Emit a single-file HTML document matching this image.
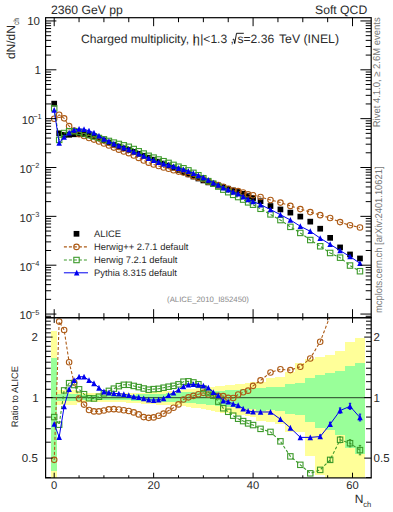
<!DOCTYPE html><html><head><meta charset="utf-8"><style>
html,body{margin:0;padding:0;background:#fff;width:393px;height:512px;overflow:hidden}
svg{display:block;font-family:"Liberation Sans",sans-serif;text-rendering:geometricPrecision}
</style></head><body>
<svg width="393" height="512" viewBox="0 0 393 512">
<defs>
<clipPath id="ct"><rect x="45.6" y="17.7" width="325.59999999999997" height="300.0"/></clipPath>
<clipPath id="cr"><rect x="45.6" y="317.7" width="325.59999999999997" height="160.2"/></clipPath>
</defs>
<g clip-path="url(#cr)">
<g fill="#ffff99" shape-rendering="crispEdges"><rect x="51.42" y="331.19" width="5.57" height="171.51"/><rect x="56.39" y="390.24" width="5.57" height="14.45"/><rect x="61.36" y="390.32" width="5.57" height="14.37"/><rect x="66.33" y="390.4" width="5.57" height="14.29"/><rect x="71.3" y="390.48" width="5.57" height="14.21"/><rect x="76.28" y="391.9" width="5.57" height="11.38"/><rect x="81.25" y="393.34" width="5.57" height="8.55"/><rect x="86.22" y="393.31" width="5.57" height="8.61"/><rect x="91.19" y="393.29" width="5.57" height="8.67"/><rect x="96.16" y="393.26" width="5.57" height="8.73"/><rect x="101.14" y="393.23" width="5.57" height="8.79"/><rect x="106.11" y="393.2" width="5.57" height="8.84"/><rect x="111.08" y="393.17" width="5.57" height="8.9"/><rect x="116.05" y="393.09" width="5.57" height="9.17"/><rect x="121.02" y="393.01" width="5.57" height="9.44"/><rect x="126" y="392.93" width="5.57" height="9.7"/><rect x="130.97" y="392.84" width="5.57" height="9.97"/><rect x="135.94" y="392.72" width="5.57" height="10.49"/><rect x="140.91" y="392.6" width="5.57" height="11.01"/><rect x="145.88" y="392.47" width="5.57" height="11.53"/><rect x="150.86" y="392.35" width="5.57" height="12.06"/><rect x="155.83" y="391.89" width="5.57" height="12.7"/><rect x="160.8" y="391.43" width="5.57" height="13.35"/><rect x="165.77" y="390.98" width="5.57" height="13.99"/><rect x="170.74" y="390.53" width="5.57" height="14.64"/><rect x="175.72" y="390.08" width="5.57" height="15.28"/><rect x="180.69" y="389.57" width="5.57" height="16.55"/><rect x="185.66" y="389.07" width="5.57" height="17.82"/><rect x="190.63" y="388.58" width="5.57" height="19.1"/><rect x="195.6" y="388.08" width="5.57" height="20.38"/><rect x="200.58" y="387.59" width="5.57" height="21.67"/><rect x="205.55" y="387.1" width="5.57" height="22.96"/><rect x="210.52" y="386.62" width="5.57" height="24.25"/><rect x="215.49" y="386.13" width="5.57" height="25.55"/><rect x="220.46" y="385.65" width="5.57" height="26.86"/><rect x="225.44" y="385.17" width="5.57" height="28.17"/><rect x="230.41" y="384.61" width="5.57" height="29.36"/><rect x="235.38" y="384.06" width="5.57" height="30.55"/><rect x="240.35" y="383.51" width="5.57" height="31.74"/><rect x="245.32" y="382.96" width="5.57" height="32.93"/><rect x="250.3" y="382.42" width="5.57" height="34.12"/><rect x="255.57" y="381.68" width="9.94" height="39.3"/><rect x="265.51" y="377.91" width="9.94" height="44.34"/><rect x="275.45" y="376.74" width="9.94" height="46.91"/><rect x="285.4" y="371.66" width="9.94" height="60.38"/><rect x="295.34" y="362.56" width="9.94" height="69.48"/><rect x="305.29" y="358.5" width="9.94" height="97.36"/><rect x="315.23" y="357.23" width="9.94" height="117.35"/><rect x="325.17" y="355.11" width="9.94" height="147.59"/><rect x="335.12" y="351.02" width="9.94" height="151.68"/><rect x="345.06" y="342.12" width="9.94" height="160.58"/><rect x="355.01" y="338.1" width="9.94" height="164.6"/></g>
<g fill="#99ff99" shape-rendering="crispEdges"><rect x="51.42" y="358.39" width="5.57" height="112.88"/><rect x="56.39" y="393.59" width="5.57" height="7.3"/><rect x="61.36" y="393.65" width="5.57" height="7.24"/><rect x="66.33" y="393.7" width="5.57" height="7.19"/><rect x="71.3" y="393.76" width="5.57" height="7.13"/><rect x="76.28" y="394.34" width="5.57" height="5.87"/><rect x="81.25" y="394.94" width="5.57" height="4.61"/><rect x="86.22" y="394.95" width="5.57" height="4.61"/><rect x="91.19" y="394.96" width="5.57" height="4.61"/><rect x="96.16" y="394.98" width="5.57" height="4.61"/><rect x="101.14" y="394.99" width="5.57" height="4.61"/><rect x="106.11" y="395.01" width="5.57" height="4.61"/><rect x="111.08" y="395.02" width="5.57" height="4.61"/><rect x="116.05" y="394.91" width="5.57" height="4.99"/><rect x="121.02" y="394.81" width="5.57" height="5.36"/><rect x="126" y="394.7" width="5.57" height="5.74"/><rect x="130.97" y="394.6" width="5.57" height="6.11"/><rect x="135.94" y="394.49" width="5.57" height="6.38"/><rect x="140.91" y="394.39" width="5.57" height="6.64"/><rect x="145.88" y="394.28" width="5.57" height="6.9"/><rect x="150.86" y="394.18" width="5.57" height="7.17"/><rect x="155.83" y="393.84" width="5.57" height="7.65"/><rect x="160.8" y="393.51" width="5.57" height="8.13"/><rect x="165.77" y="393.17" width="5.57" height="8.61"/><rect x="170.74" y="392.84" width="5.57" height="9.09"/><rect x="175.72" y="392.51" width="5.57" height="9.56"/><rect x="180.69" y="392.29" width="5.57" height="10.25"/><rect x="185.66" y="392.07" width="5.57" height="10.93"/><rect x="190.63" y="391.85" width="5.57" height="11.62"/><rect x="195.6" y="391.63" width="5.57" height="12.31"/><rect x="200.58" y="391.41" width="5.57" height="13"/><rect x="205.55" y="391.19" width="5.57" height="13.69"/><rect x="210.52" y="390.97" width="5.57" height="14.38"/><rect x="215.49" y="390.75" width="5.57" height="15.08"/><rect x="220.46" y="390.53" width="5.57" height="15.78"/><rect x="225.44" y="390.32" width="5.57" height="16.48"/><rect x="230.41" y="389.95" width="5.57" height="17.33"/><rect x="235.38" y="389.58" width="5.57" height="18.19"/><rect x="240.35" y="389.22" width="5.57" height="19.05"/><rect x="245.32" y="388.85" width="5.57" height="19.91"/><rect x="250.3" y="388.49" width="5.57" height="20.77"/><rect x="255.57" y="387.86" width="9.94" height="22.7"/><rect x="265.51" y="387.32" width="9.94" height="22.44"/><rect x="275.45" y="386.93" width="9.94" height="23.83"/><rect x="285.4" y="384.19" width="9.94" height="29.67"/><rect x="295.34" y="383.15" width="9.94" height="31.35"/><rect x="305.29" y="378.12" width="9.94" height="44.01"/><rect x="315.23" y="374.5" width="9.94" height="53.25"/><rect x="325.17" y="373.36" width="9.94" height="56.88"/><rect x="335.12" y="371.4" width="9.94" height="64.07"/><rect x="345.06" y="365.59" width="9.94" height="82.63"/><rect x="355.01" y="363.2" width="9.94" height="91.15"/></g>
<line x1="45.6" y1="397.6" x2="371.2" y2="397.6" stroke="#000" stroke-opacity="0.6" stroke-width="1.2"/>
<polyline points="54.2,459.87 59.17,321.54 64.14,329.97 69.12,362.21 74.09,382.42 79.06,398.48 84.03,404.59 89,410.06 93.98,411.38 98.95,411.38 103.92,410.46 108.89,409.36 113.86,409.16 118.84,409.56 123.81,410.26 128.78,410.97 133.75,412.41 138.72,414.39 143.7,417.08 148.67,417.85 153.64,417.41 158.61,415.78 163.58,413.66 168.56,410.56 173.53,407.77 178.5,404.41 183.47,399.54 188.44,397.34 193.42,395.87 198.39,394.18 203.36,392.84 208.33,394.51 213.3,395.87 218.28,395.87 223.25,396.13 228.22,397.86 233.19,398.04 238.16,394.51 243.14,392.18 248.11,390.64 253.08,385.86 260.54,380.38 270.48,372.51 280.43,369.29 290.37,370.12 300.31,366.68 310.26,358.45 320.2,341.71 330.15,315.89 340.09,293.38 350.03,277.68 359.98,270.27" fill="none" stroke="#ad5b16" stroke-width="1.1" stroke-dasharray="3,2"/>
<g fill="none" stroke="#ad5b16" stroke-width="1.1"><circle cx="54.2" cy="459.87" r="2.75"/><circle cx="59.17" cy="321.54" r="2.75"/><circle cx="64.14" cy="329.97" r="2.75"/><circle cx="69.12" cy="362.21" r="2.75"/><circle cx="74.09" cy="382.42" r="2.75"/><circle cx="79.06" cy="398.48" r="2.75"/><circle cx="84.03" cy="404.59" r="2.75"/><circle cx="89" cy="410.06" r="2.75"/><circle cx="93.98" cy="411.38" r="2.75"/><circle cx="98.95" cy="411.38" r="2.75"/><circle cx="103.92" cy="410.46" r="2.75"/><circle cx="108.89" cy="409.36" r="2.75"/><circle cx="113.86" cy="409.16" r="2.75"/><circle cx="118.84" cy="409.56" r="2.75"/><circle cx="123.81" cy="410.26" r="2.75"/><circle cx="128.78" cy="410.97" r="2.75"/><circle cx="133.75" cy="412.41" r="2.75"/><circle cx="138.72" cy="414.39" r="2.75"/><circle cx="143.7" cy="417.08" r="2.75"/><circle cx="148.67" cy="417.85" r="2.75"/><circle cx="153.64" cy="417.41" r="2.75"/><circle cx="158.61" cy="415.78" r="2.75"/><circle cx="163.58" cy="413.66" r="2.75"/><circle cx="168.56" cy="410.56" r="2.75"/><circle cx="173.53" cy="407.77" r="2.75"/><circle cx="178.5" cy="404.41" r="2.75"/><circle cx="183.47" cy="399.54" r="2.75"/><circle cx="188.44" cy="397.34" r="2.75"/><circle cx="193.42" cy="395.87" r="2.75"/><circle cx="198.39" cy="394.18" r="2.75"/><circle cx="203.36" cy="392.84" r="2.75"/><circle cx="208.33" cy="394.51" r="2.75"/><circle cx="213.3" cy="395.87" r="2.75"/><circle cx="218.28" cy="395.87" r="2.75"/><circle cx="223.25" cy="396.13" r="2.75"/><circle cx="228.22" cy="397.86" r="2.75"/><circle cx="233.19" cy="398.04" r="2.75"/><circle cx="238.16" cy="394.51" r="2.75"/><circle cx="243.14" cy="392.18" r="2.75"/><circle cx="248.11" cy="390.64" r="2.75"/><circle cx="253.08" cy="385.86" r="2.75"/><circle cx="260.54" cy="380.38" r="2.75"/><circle cx="270.48" cy="372.51" r="2.75"/><circle cx="280.43" cy="369.29" r="2.75"/><circle cx="290.37" cy="370.12" r="2.75"/><circle cx="300.31" cy="366.68" r="2.75"/><circle cx="310.26" cy="358.45" r="2.75"/><circle cx="320.2" cy="341.71" r="2.75"/></g>
<polyline points="54.2,417.08 59.17,424.71 64.14,390.4 69.12,383.15 74.09,385.02 79.06,389.28 84.03,394.18 89,398.21 93.98,398.48 98.95,396.73 103.92,393.34 108.89,390.88 113.86,388.65 118.84,386.16 123.81,384.79 128.78,384.79 133.75,385.93 138.72,387.09 143.7,388.49 148.67,389.68 153.64,389.12 158.61,388.81 163.58,387.71 168.56,386.7 173.53,385.86 178.5,384.34 183.47,381.68 188.44,381.32 193.42,382.42 198.39,384.27 203.36,388.49 208.33,392.51 213.3,395.7 218.28,401.62 223.25,408.26 228.22,411.79 233.19,415.67 238.16,418.73 243.14,421.1 248.11,423.41 253.08,425.07 260.54,428.86 270.48,431.91 280.43,441.32 290.37,456.38 300.31,464.82 310.26,473.33 320.2,469.86 330.15,459.87 340.09,439.75 350.03,443.22 359.98,450.11" fill="none" stroke="#3d9a2b" stroke-width="1.1" stroke-dasharray="3,2"/>
<g fill="none" stroke="#3d9a2b" stroke-width="1.1"><rect x="51.5" y="414.38" width="5.4" height="5.4"/><rect x="56.47" y="422.01" width="5.4" height="5.4"/><rect x="61.44" y="387.7" width="5.4" height="5.4"/><rect x="66.42" y="380.45" width="5.4" height="5.4"/><rect x="71.39" y="382.32" width="5.4" height="5.4"/><rect x="76.36" y="386.58" width="5.4" height="5.4"/><rect x="81.33" y="391.48" width="5.4" height="5.4"/><rect x="86.3" y="395.51" width="5.4" height="5.4"/><rect x="91.28" y="395.78" width="5.4" height="5.4"/><rect x="96.25" y="394.03" width="5.4" height="5.4"/><rect x="101.22" y="390.64" width="5.4" height="5.4"/><rect x="106.19" y="388.18" width="5.4" height="5.4"/><rect x="111.16" y="385.95" width="5.4" height="5.4"/><rect x="116.14" y="383.46" width="5.4" height="5.4"/><rect x="121.11" y="382.09" width="5.4" height="5.4"/><rect x="126.08" y="382.09" width="5.4" height="5.4"/><rect x="131.05" y="383.23" width="5.4" height="5.4"/><rect x="136.02" y="384.39" width="5.4" height="5.4"/><rect x="141" y="385.79" width="5.4" height="5.4"/><rect x="145.97" y="386.98" width="5.4" height="5.4"/><rect x="150.94" y="386.42" width="5.4" height="5.4"/><rect x="155.91" y="386.11" width="5.4" height="5.4"/><rect x="160.88" y="385.01" width="5.4" height="5.4"/><rect x="165.86" y="384" width="5.4" height="5.4"/><rect x="170.83" y="383.16" width="5.4" height="5.4"/><rect x="175.8" y="381.64" width="5.4" height="5.4"/><rect x="180.77" y="378.98" width="5.4" height="5.4"/><rect x="185.74" y="378.62" width="5.4" height="5.4"/><rect x="190.72" y="379.72" width="5.4" height="5.4"/><rect x="195.69" y="381.57" width="5.4" height="5.4"/><rect x="200.66" y="385.79" width="5.4" height="5.4"/><rect x="205.63" y="389.81" width="5.4" height="5.4"/><rect x="210.6" y="393" width="5.4" height="5.4"/><rect x="215.58" y="398.92" width="5.4" height="5.4"/><rect x="220.55" y="405.56" width="5.4" height="5.4"/><rect x="225.52" y="409.09" width="5.4" height="5.4"/><rect x="230.49" y="412.97" width="5.4" height="5.4"/><rect x="235.46" y="416.03" width="5.4" height="5.4"/><rect x="240.44" y="418.4" width="5.4" height="5.4"/><rect x="245.41" y="420.71" width="5.4" height="5.4"/><rect x="250.38" y="422.37" width="5.4" height="5.4"/><rect x="257.84" y="426.16" width="5.4" height="5.4"/><rect x="267.78" y="429.21" width="5.4" height="5.4"/><rect x="277.73" y="438.62" width="5.4" height="5.4"/><rect x="287.67" y="453.68" width="5.4" height="5.4"/><rect x="297.61" y="462.12" width="5.4" height="5.4"/><rect x="307.56" y="470.63" width="5.4" height="5.4"/><rect x="317.5" y="467.16" width="5.4" height="5.4"/><rect x="327.45" y="457.17" width="5.4" height="5.4"/><rect x="337.39" y="437.05" width="5.4" height="5.4"/><rect x="347.33" y="440.52" width="5.4" height="5.4"/><rect x="357.28" y="447.41" width="5.4" height="5.4"/></g>
<polyline points="54.2,423.88 59.17,437.11 64.14,406.51 69.12,389.28 74.09,380.24 79.06,376.74 84.03,376.74 89,380.24 93.98,383.37 98.95,387.86 103.92,391.61 108.89,392.6 113.86,393.34 118.84,393.67 123.81,394.18 128.78,395.27 133.75,396.73 138.72,397.16 143.7,398.48 148.67,399.72 153.64,400.08 158.61,399.72 163.58,398.48 168.56,395.27 173.53,392.68 178.5,389.92 183.47,386.39 188.44,384.64 193.42,384.27 198.39,385.02 203.36,385.78 208.33,387.71 213.3,392.18 218.28,395.44 223.25,400.71 228.22,401.71 233.19,403.93 238.16,405.35 243.14,408.76 248.11,410.97 253.08,411.79 260.54,411.99 270.48,411.99 280.43,419.29 290.37,427.87 300.31,437.38 310.26,437.38 320.2,436.56 330.15,424.24 340.09,410.56 350.03,406.31 359.98,417.52" fill="none" stroke="#0000f0" stroke-width="1"/>
<path d="M320.2 435.06V438.06M319 435.06H321.4M319 438.06H321.4M330.15 422.24V426.24M328.95 422.24H331.35M328.95 426.24H331.35M340.09 407.96V413.16M338.89 407.96H341.29M338.89 413.16H341.29M350.03 403.31V409.31M348.83 403.31H351.23M348.83 409.31H351.23M359.98 414.12V420.92M358.78 414.12H361.18M358.78 420.92H361.18" stroke="#0000f0" stroke-width="1" fill="none"/>
<path d="M330.15 457.67V462.07M328.95 457.67H331.35M328.95 462.07H331.35M340.09 436.75V442.75M338.89 436.75H341.29M338.89 442.75H341.29M350.03 439.62V446.82M348.83 439.62H351.23M348.83 446.82H351.23M359.98 445.41V454.81M358.78 445.41H361.18M358.78 454.81H361.18" stroke="#3d9a2b" stroke-width="1" fill="none"/>
<g fill="#0000f0"><path d="M54.2 420.88L56.95 426.68L51.45 426.68Z"/><path d="M59.17 434.11L61.92 439.91L56.42 439.91Z"/><path d="M64.14 403.51L66.89 409.31L61.39 409.31Z"/><path d="M69.12 386.28L71.87 392.08L66.37 392.08Z"/><path d="M74.09 377.24L76.84 383.04L71.34 383.04Z"/><path d="M79.06 373.74L81.81 379.54L76.31 379.54Z"/><path d="M84.03 373.74L86.78 379.54L81.28 379.54Z"/><path d="M89 377.24L91.75 383.04L86.25 383.04Z"/><path d="M93.98 380.37L96.73 386.17L91.23 386.17Z"/><path d="M98.95 384.86L101.7 390.66L96.2 390.66Z"/><path d="M103.92 388.61L106.67 394.41L101.17 394.41Z"/><path d="M108.89 389.6L111.64 395.4L106.14 395.4Z"/><path d="M113.86 390.34L116.61 396.14L111.11 396.14Z"/><path d="M118.84 390.67L121.59 396.47L116.09 396.47Z"/><path d="M123.81 391.18L126.56 396.98L121.06 396.98Z"/><path d="M128.78 392.27L131.53 398.07L126.03 398.07Z"/><path d="M133.75 393.73L136.5 399.53L131 399.53Z"/><path d="M138.72 394.16L141.47 399.96L135.97 399.96Z"/><path d="M143.7 395.48L146.45 401.28L140.95 401.28Z"/><path d="M148.67 396.72L151.42 402.52L145.92 402.52Z"/><path d="M153.64 397.08L156.39 402.88L150.89 402.88Z"/><path d="M158.61 396.72L161.36 402.52L155.86 402.52Z"/><path d="M163.58 395.48L166.33 401.28L160.83 401.28Z"/><path d="M168.56 392.27L171.31 398.07L165.81 398.07Z"/><path d="M173.53 389.68L176.28 395.48L170.78 395.48Z"/><path d="M178.5 386.92L181.25 392.72L175.75 392.72Z"/><path d="M183.47 383.39L186.22 389.19L180.72 389.19Z"/><path d="M188.44 381.64L191.19 387.44L185.69 387.44Z"/><path d="M193.42 381.27L196.17 387.07L190.67 387.07Z"/><path d="M198.39 382.02L201.14 387.82L195.64 387.82Z"/><path d="M203.36 382.78L206.11 388.58L200.61 388.58Z"/><path d="M208.33 384.71L211.08 390.51L205.58 390.51Z"/><path d="M213.3 389.18L216.05 394.98L210.55 394.98Z"/><path d="M218.28 392.44L221.03 398.24L215.53 398.24Z"/><path d="M223.25 397.71L226 403.51L220.5 403.51Z"/><path d="M228.22 398.71L230.97 404.51L225.47 404.51Z"/><path d="M233.19 400.93L235.94 406.73L230.44 406.73Z"/><path d="M238.16 402.35L240.91 408.15L235.41 408.15Z"/><path d="M243.14 405.76L245.89 411.56L240.39 411.56Z"/><path d="M248.11 407.97L250.86 413.77L245.36 413.77Z"/><path d="M253.08 408.79L255.83 414.59L250.33 414.59Z"/><path d="M260.54 408.99L263.29 414.79L257.79 414.79Z"/><path d="M270.48 408.99L273.23 414.79L267.73 414.79Z"/><path d="M280.43 416.29L283.18 422.09L277.68 422.09Z"/><path d="M290.37 424.87L293.12 430.67L287.62 430.67Z"/><path d="M300.31 434.38L303.06 440.18L297.56 440.18Z"/><path d="M310.26 434.38L313.01 440.18L307.51 440.18Z"/><path d="M320.2 433.56L322.95 439.36L317.45 439.36Z"/><path d="M330.15 421.24L332.9 427.04L327.4 427.04Z"/><path d="M340.09 407.56L342.84 413.36L337.34 413.36Z"/><path d="M350.03 403.31L352.78 409.11L347.28 409.11Z"/><path d="M359.98 414.52L362.73 420.32L357.23 420.32Z"/></g>
</g>
<g clip-path="url(#ct)">
<g fill="#000"><rect x="51.35" y="100.8" width="5.7" height="5.7"/><rect x="56.32" y="130.46" width="5.7" height="5.7"/><rect x="61.29" y="131.92" width="5.7" height="5.7"/><rect x="66.27" y="131.92" width="5.7" height="5.7"/><rect x="71.24" y="131.43" width="5.7" height="5.7"/><rect x="76.21" y="131.19" width="5.7" height="5.7"/><rect x="81.18" y="131.43" width="5.7" height="5.7"/><rect x="86.15" y="132.16" width="5.7" height="5.7"/><rect x="91.13" y="133.39" width="5.7" height="5.7"/><rect x="96.1" y="135.34" width="5.7" height="5.7"/><rect x="101.07" y="137.54" width="5.7" height="5.7"/><rect x="106.04" y="139.74" width="5.7" height="5.7"/><rect x="111.01" y="141.93" width="5.7" height="5.7"/><rect x="115.99" y="143.89" width="5.7" height="5.7"/><rect x="120.96" y="145.6" width="5.7" height="5.7"/><rect x="125.93" y="147.06" width="5.7" height="5.7"/><rect x="130.9" y="149.02" width="5.7" height="5.7"/><rect x="135.87" y="150.97" width="5.7" height="5.7"/><rect x="140.85" y="152.93" width="5.7" height="5.7"/><rect x="145.82" y="154.88" width="5.7" height="5.7"/><rect x="150.79" y="156.83" width="5.7" height="5.7"/><rect x="155.76" y="158.79" width="5.7" height="5.7"/><rect x="160.73" y="160.74" width="5.7" height="5.7"/><rect x="165.71" y="162.7" width="5.7" height="5.7"/><rect x="170.68" y="164.89" width="5.7" height="5.7"/><rect x="175.65" y="167.09" width="5.7" height="5.7"/><rect x="180.62" y="169.29" width="5.7" height="5.7"/><rect x="185.59" y="171.49" width="5.7" height="5.7"/><rect x="190.57" y="173.69" width="5.7" height="5.7"/><rect x="195.54" y="175.64" width="5.7" height="5.7"/><rect x="200.51" y="177.6" width="5.7" height="5.7"/><rect x="205.48" y="179.55" width="5.7" height="5.7"/><rect x="210.45" y="181.26" width="5.7" height="5.7"/><rect x="215.43" y="182.72" width="5.7" height="5.7"/><rect x="220.4" y="184.19" width="5.7" height="5.7"/><rect x="225.37" y="185.9" width="5.7" height="5.7"/><rect x="230.34" y="187.61" width="5.7" height="5.7"/><rect x="235.31" y="189.08" width="5.7" height="5.7"/><rect x="240.29" y="191.03" width="5.7" height="5.7"/><rect x="245.26" y="193.23" width="5.7" height="5.7"/><rect x="250.23" y="195.18" width="5.7" height="5.7"/><rect x="257.69" y="198.36" width="5.7" height="5.7"/><rect x="267.63" y="203.19" width="5.7" height="5.7"/><rect x="277.58" y="206.61" width="5.7" height="5.7"/><rect x="287.52" y="209.74" width="5.7" height="5.7"/><rect x="297.46" y="213.74" width="5.7" height="5.7"/><rect x="307.41" y="218.78" width="5.7" height="5.7"/><rect x="317.35" y="225.86" width="5.7" height="5.7"/><rect x="327.3" y="234.99" width="5.7" height="5.7"/><rect x="337.24" y="244.57" width="5.7" height="5.7"/><rect x="347.18" y="251.6" width="5.7" height="5.7"/><rect x="357.13" y="255.61" width="5.7" height="5.7"/></g>
<polyline points="54.2,118.79 59.17,114.82 64.14,118.33 69.12,126.17 74.09,130.59 79.06,134.25 84.03,135.98 89,138.04 93.98,139.58 98.95,141.54 103.92,143.51 108.89,145.44 113.86,147.59 118.84,149.64 123.81,151.53 128.78,153.16 133.75,155.47 138.72,157.9 143.7,160.51 148.67,162.65 153.64,164.5 158.61,166.06 163.58,167.49 168.56,168.7 173.53,170.22 178.5,171.6 183.47,172.61 188.44,174.28 193.42,176.12 198.39,177.66 203.36,179.29 208.33,181.65 213.3,183.69 218.28,185.15 223.25,186.68 228.22,188.81 233.19,190.57 238.16,191.17 243.14,192.56 248.11,194.39 253.08,195.18 260.54,197.02 270.48,199.94 280.43,202.58 290.37,205.91 300.31,209.08 310.26,212.11 320.2,215.13 330.15,217.98 340.09,222.09 350.03,225.31 359.98,227.51" fill="none" stroke="#ad5b16" stroke-width="1.1" stroke-dasharray="3,2"/>
<g fill="none" stroke="#ad5b16" stroke-width="1.1"><circle cx="54.2" cy="118.79" r="2.75"/><circle cx="59.17" cy="114.82" r="2.75"/><circle cx="64.14" cy="118.33" r="2.75"/><circle cx="69.12" cy="126.17" r="2.75"/><circle cx="74.09" cy="130.59" r="2.75"/><circle cx="79.06" cy="134.25" r="2.75"/><circle cx="84.03" cy="135.98" r="2.75"/><circle cx="89" cy="138.04" r="2.75"/><circle cx="93.98" cy="139.58" r="2.75"/><circle cx="98.95" cy="141.54" r="2.75"/><circle cx="103.92" cy="143.51" r="2.75"/><circle cx="108.89" cy="145.44" r="2.75"/><circle cx="113.86" cy="147.59" r="2.75"/><circle cx="118.84" cy="149.64" r="2.75"/><circle cx="123.81" cy="151.53" r="2.75"/><circle cx="128.78" cy="153.16" r="2.75"/><circle cx="133.75" cy="155.47" r="2.75"/><circle cx="138.72" cy="157.9" r="2.75"/><circle cx="143.7" cy="160.51" r="2.75"/><circle cx="148.67" cy="162.65" r="2.75"/><circle cx="153.64" cy="164.5" r="2.75"/><circle cx="158.61" cy="166.06" r="2.75"/><circle cx="163.58" cy="167.49" r="2.75"/><circle cx="168.56" cy="168.7" r="2.75"/><circle cx="173.53" cy="170.22" r="2.75"/><circle cx="178.5" cy="171.6" r="2.75"/><circle cx="183.47" cy="172.61" r="2.75"/><circle cx="188.44" cy="174.28" r="2.75"/><circle cx="193.42" cy="176.12" r="2.75"/><circle cx="198.39" cy="177.66" r="2.75"/><circle cx="203.36" cy="179.29" r="2.75"/><circle cx="208.33" cy="181.65" r="2.75"/><circle cx="213.3" cy="183.69" r="2.75"/><circle cx="218.28" cy="185.15" r="2.75"/><circle cx="223.25" cy="186.68" r="2.75"/><circle cx="228.22" cy="188.81" r="2.75"/><circle cx="233.19" cy="190.57" r="2.75"/><circle cx="238.16" cy="191.17" r="2.75"/><circle cx="243.14" cy="192.56" r="2.75"/><circle cx="248.11" cy="194.39" r="2.75"/><circle cx="253.08" cy="195.18" r="2.75"/><circle cx="260.54" cy="197.02" r="2.75"/><circle cx="270.48" cy="199.94" r="2.75"/><circle cx="280.43" cy="202.58" r="2.75"/><circle cx="290.37" cy="205.91" r="2.75"/><circle cx="300.31" cy="209.08" r="2.75"/><circle cx="310.26" cy="212.11" r="2.75"/><circle cx="320.2" cy="215.13" r="2.75"/><circle cx="330.15" cy="217.98" r="2.75"/><circle cx="340.09" cy="222.09" r="2.75"/><circle cx="350.03" cy="225.31" r="2.75"/><circle cx="359.98" cy="227.51" r="2.75"/></g>
<polyline points="54.2,108.39 59.17,139.89 64.14,133.02 69.12,131.26 74.09,131.22 79.06,132.02 84.03,133.45 89,135.16 93.98,136.45 98.95,137.98 103.92,139.35 108.89,140.95 113.86,142.61 118.84,143.96 123.81,145.34 128.78,146.8 133.75,149.03 138.72,151.27 143.7,153.56 148.67,155.8 153.64,157.62 158.61,159.5 163.58,161.19 168.56,162.9 173.53,164.89 178.5,166.72 183.47,168.27 188.44,170.38 193.42,172.85 198.39,175.25 203.36,178.23 208.33,181.16 213.3,183.65 218.28,186.55 223.25,189.63 228.22,192.2 233.19,194.85 238.16,197.06 243.14,199.59 248.11,202.35 253.08,204.71 260.54,208.8 270.48,214.38 280.43,220.09 290.37,226.87 300.31,232.93 310.26,240.03 320.2,246.27 330.15,252.98 340.09,257.66 350.03,265.54 359.98,271.22" fill="none" stroke="#3d9a2b" stroke-width="1.1" stroke-dasharray="3,2"/>
<g fill="none" stroke="#3d9a2b" stroke-width="1.1"><rect x="51.5" y="105.69" width="5.4" height="5.4"/><rect x="56.47" y="137.19" width="5.4" height="5.4"/><rect x="61.44" y="130.32" width="5.4" height="5.4"/><rect x="66.42" y="128.56" width="5.4" height="5.4"/><rect x="71.39" y="128.52" width="5.4" height="5.4"/><rect x="76.36" y="129.32" width="5.4" height="5.4"/><rect x="81.33" y="130.75" width="5.4" height="5.4"/><rect x="86.3" y="132.46" width="5.4" height="5.4"/><rect x="91.28" y="133.75" width="5.4" height="5.4"/><rect x="96.25" y="135.28" width="5.4" height="5.4"/><rect x="101.22" y="136.65" width="5.4" height="5.4"/><rect x="106.19" y="138.25" width="5.4" height="5.4"/><rect x="111.16" y="139.91" width="5.4" height="5.4"/><rect x="116.14" y="141.26" width="5.4" height="5.4"/><rect x="121.11" y="142.64" width="5.4" height="5.4"/><rect x="126.08" y="144.1" width="5.4" height="5.4"/><rect x="131.05" y="146.33" width="5.4" height="5.4"/><rect x="136.02" y="148.57" width="5.4" height="5.4"/><rect x="141" y="150.86" width="5.4" height="5.4"/><rect x="145.97" y="153.1" width="5.4" height="5.4"/><rect x="150.94" y="154.92" width="5.4" height="5.4"/><rect x="155.91" y="156.8" width="5.4" height="5.4"/><rect x="160.88" y="158.49" width="5.4" height="5.4"/><rect x="165.86" y="160.2" width="5.4" height="5.4"/><rect x="170.83" y="162.19" width="5.4" height="5.4"/><rect x="175.8" y="164.02" width="5.4" height="5.4"/><rect x="180.77" y="165.57" width="5.4" height="5.4"/><rect x="185.74" y="167.68" width="5.4" height="5.4"/><rect x="190.72" y="170.15" width="5.4" height="5.4"/><rect x="195.69" y="172.55" width="5.4" height="5.4"/><rect x="200.66" y="175.53" width="5.4" height="5.4"/><rect x="205.63" y="178.46" width="5.4" height="5.4"/><rect x="210.6" y="180.95" width="5.4" height="5.4"/><rect x="215.58" y="183.85" width="5.4" height="5.4"/><rect x="220.55" y="186.93" width="5.4" height="5.4"/><rect x="225.52" y="189.5" width="5.4" height="5.4"/><rect x="230.49" y="192.15" width="5.4" height="5.4"/><rect x="235.46" y="194.36" width="5.4" height="5.4"/><rect x="240.44" y="196.89" width="5.4" height="5.4"/><rect x="245.41" y="199.65" width="5.4" height="5.4"/><rect x="250.38" y="202.01" width="5.4" height="5.4"/><rect x="257.84" y="206.1" width="5.4" height="5.4"/><rect x="267.78" y="211.68" width="5.4" height="5.4"/><rect x="277.73" y="217.39" width="5.4" height="5.4"/><rect x="287.67" y="224.17" width="5.4" height="5.4"/><rect x="297.61" y="230.23" width="5.4" height="5.4"/><rect x="307.56" y="237.33" width="5.4" height="5.4"/><rect x="317.5" y="243.57" width="5.4" height="5.4"/><rect x="327.45" y="250.28" width="5.4" height="5.4"/><rect x="337.39" y="254.96" width="5.4" height="5.4"/><rect x="347.33" y="262.84" width="5.4" height="5.4"/><rect x="357.28" y="268.52" width="5.4" height="5.4"/></g>
<polyline points="54.2,110.04 59.17,142.91 64.14,136.94 69.12,132.75 74.09,130.06 79.06,128.97 84.03,129.21 89,130.8 93.98,132.78 98.95,135.82 103.92,138.93 108.89,141.37 113.86,143.75 118.84,145.78 123.81,147.62 128.78,149.35 133.75,151.66 138.72,153.72 143.7,155.99 148.67,158.25 153.64,160.29 158.61,162.15 163.58,163.81 168.56,164.98 173.53,166.55 178.5,168.08 183.47,169.42 188.44,171.19 193.42,173.3 198.39,175.43 203.36,177.57 208.33,179.99 213.3,182.79 218.28,185.05 223.25,187.8 228.22,189.75 233.19,192 238.16,193.81 243.14,196.59 248.11,199.33 253.08,201.48 260.54,204.7 270.48,209.54 280.43,214.73 290.37,219.94 300.31,226.26 310.26,231.29 320.2,238.18 330.15,244.32 340.09,250.57 350.03,256.57 359.98,263.3" fill="none" stroke="#0000f0" stroke-width="1"/>
<g fill="#0000f0"><path d="M54.2 107.04L56.95 112.84L51.45 112.84Z"/><path d="M59.17 139.91L61.92 145.71L56.42 145.71Z"/><path d="M64.14 133.94L66.89 139.74L61.39 139.74Z"/><path d="M69.12 129.75L71.87 135.55L66.37 135.55Z"/><path d="M74.09 127.06L76.84 132.86L71.34 132.86Z"/><path d="M79.06 125.97L81.81 131.77L76.31 131.77Z"/><path d="M84.03 126.21L86.78 132.01L81.28 132.01Z"/><path d="M89 127.8L91.75 133.6L86.25 133.6Z"/><path d="M93.98 129.78L96.73 135.58L91.23 135.58Z"/><path d="M98.95 132.82L101.7 138.62L96.2 138.62Z"/><path d="M103.92 135.93L106.67 141.73L101.17 141.73Z"/><path d="M108.89 138.37L111.64 144.17L106.14 144.17Z"/><path d="M113.86 140.75L116.61 146.55L111.11 146.55Z"/><path d="M118.84 142.78L121.59 148.58L116.09 148.58Z"/><path d="M123.81 144.62L126.56 150.42L121.06 150.42Z"/><path d="M128.78 146.35L131.53 152.15L126.03 152.15Z"/><path d="M133.75 148.66L136.5 154.46L131 154.46Z"/><path d="M138.72 150.72L141.47 156.52L135.97 156.52Z"/><path d="M143.7 152.99L146.45 158.79L140.95 158.79Z"/><path d="M148.67 155.25L151.42 161.05L145.92 161.05Z"/><path d="M153.64 157.29L156.39 163.09L150.89 163.09Z"/><path d="M158.61 159.15L161.36 164.95L155.86 164.95Z"/><path d="M163.58 160.81L166.33 166.61L160.83 166.61Z"/><path d="M168.56 161.98L171.31 167.78L165.81 167.78Z"/><path d="M173.53 163.55L176.28 169.35L170.78 169.35Z"/><path d="M178.5 165.08L181.25 170.88L175.75 170.88Z"/><path d="M183.47 166.42L186.22 172.22L180.72 172.22Z"/><path d="M188.44 168.19L191.19 173.99L185.69 173.99Z"/><path d="M193.42 170.3L196.17 176.1L190.67 176.1Z"/><path d="M198.39 172.43L201.14 178.23L195.64 178.23Z"/><path d="M203.36 174.57L206.11 180.37L200.61 180.37Z"/><path d="M208.33 176.99L211.08 182.79L205.58 182.79Z"/><path d="M213.3 179.79L216.05 185.59L210.55 185.59Z"/><path d="M218.28 182.05L221.03 187.85L215.53 187.85Z"/><path d="M223.25 184.8L226 190.6L220.5 190.6Z"/><path d="M228.22 186.75L230.97 192.55L225.47 192.55Z"/><path d="M233.19 189L235.94 194.8L230.44 194.8Z"/><path d="M238.16 190.81L240.91 196.61L235.41 196.61Z"/><path d="M243.14 193.59L245.89 199.39L240.39 199.39Z"/><path d="M248.11 196.33L250.86 202.13L245.36 202.13Z"/><path d="M253.08 198.48L255.83 204.28L250.33 204.28Z"/><path d="M260.54 201.7L263.29 207.5L257.79 207.5Z"/><path d="M270.48 206.54L273.23 212.34L267.73 212.34Z"/><path d="M280.43 211.73L283.18 217.53L277.68 217.53Z"/><path d="M290.37 216.94L293.12 222.74L287.62 222.74Z"/><path d="M300.31 223.26L303.06 229.06L297.56 229.06Z"/><path d="M310.26 228.29L313.01 234.09L307.51 234.09Z"/><path d="M320.2 235.18L322.95 240.98L317.45 240.98Z"/><path d="M330.15 241.32L332.9 247.12L327.4 247.12Z"/><path d="M340.09 247.57L342.84 253.37L337.34 253.37Z"/><path d="M350.03 253.57L352.78 259.37L347.28 259.37Z"/><path d="M359.98 260.3L362.73 266.1L357.23 266.1Z"/></g>
</g>
<path d="M54.2 17.7L54.2 26.2M54.2 317.7L54.2 309.2M54.2 317.7L54.2 322.9M54.2 477.9L54.2 472.7M79.06 17.7L79.06 22.2M79.06 317.7L79.06 313.2M79.06 317.7L79.06 320.3M79.06 477.9L79.06 475.3M103.92 17.7L103.92 22.2M103.92 317.7L103.92 313.2M103.92 317.7L103.92 320.3M103.92 477.9L103.92 475.3M128.78 17.7L128.78 22.2M128.78 317.7L128.78 313.2M128.78 317.7L128.78 320.3M128.78 477.9L128.78 475.3M153.64 17.7L153.64 26.2M153.64 317.7L153.64 309.2M153.64 317.7L153.64 322.9M153.64 477.9L153.64 472.7M178.5 17.7L178.5 22.2M178.5 317.7L178.5 313.2M178.5 317.7L178.5 320.3M178.5 477.9L178.5 475.3M203.36 17.7L203.36 22.2M203.36 317.7L203.36 313.2M203.36 317.7L203.36 320.3M203.36 477.9L203.36 475.3M228.22 17.7L228.22 22.2M228.22 317.7L228.22 313.2M228.22 317.7L228.22 320.3M228.22 477.9L228.22 475.3M253.08 17.7L253.08 26.2M253.08 317.7L253.08 309.2M253.08 317.7L253.08 322.9M253.08 477.9L253.08 472.7M277.94 17.7L277.94 22.2M277.94 317.7L277.94 313.2M277.94 317.7L277.94 320.3M277.94 477.9L277.94 475.3M302.8 17.7L302.8 22.2M302.8 317.7L302.8 313.2M302.8 317.7L302.8 320.3M302.8 477.9L302.8 475.3M327.66 17.7L327.66 22.2M327.66 317.7L327.66 313.2M327.66 317.7L327.66 320.3M327.66 477.9L327.66 475.3M352.52 17.7L352.52 26.2M352.52 317.7L352.52 309.2M352.52 317.7L352.52 322.9M352.52 477.9L352.52 472.7M45.6 316.29L51.1 316.29M371.2 316.29L365.7 316.29M45.6 314.05L56.4 314.05M371.2 314.05L360.4 314.05M45.6 299.34L51.1 299.34M371.2 299.34L365.7 299.34M45.6 290.74L51.1 290.74M371.2 290.74L365.7 290.74M45.6 284.64L51.1 284.64M371.2 284.64L365.7 284.64M45.6 279.91L51.1 279.91M371.2 279.91L365.7 279.91M45.6 276.04L51.1 276.04M371.2 276.04L365.7 276.04M45.6 272.77L51.1 272.77M371.2 272.77L365.7 272.77M45.6 269.93L51.1 269.93M371.2 269.93L365.7 269.93M45.6 267.44L51.1 267.44M371.2 267.44L365.7 267.44M45.6 265.2L56.4 265.2M371.2 265.2L360.4 265.2M45.6 250.49L51.1 250.49M371.2 250.49L365.7 250.49M45.6 241.89L51.1 241.89M371.2 241.89L365.7 241.89M45.6 235.79L51.1 235.79M371.2 235.79L365.7 235.79M45.6 231.06L51.1 231.06M371.2 231.06L365.7 231.06M45.6 227.19L51.1 227.19M371.2 227.19L365.7 227.19M45.6 223.92L51.1 223.92M371.2 223.92L365.7 223.92M45.6 221.08L51.1 221.08M371.2 221.08L365.7 221.08M45.6 218.59L51.1 218.59M371.2 218.59L365.7 218.59M45.6 216.35L56.4 216.35M371.2 216.35L360.4 216.35M45.6 201.64L51.1 201.64M371.2 201.64L365.7 201.64M45.6 193.04L51.1 193.04M371.2 193.04L365.7 193.04M45.6 186.94L51.1 186.94M371.2 186.94L365.7 186.94M45.6 182.21L51.1 182.21M371.2 182.21L365.7 182.21M45.6 178.34L51.1 178.34M371.2 178.34L365.7 178.34M45.6 175.07L51.1 175.07M371.2 175.07L365.7 175.07M45.6 172.23L51.1 172.23M371.2 172.23L365.7 172.23M45.6 169.74L51.1 169.74M371.2 169.74L365.7 169.74M45.6 167.5L56.4 167.5M371.2 167.5L360.4 167.5M45.6 152.79L51.1 152.79M371.2 152.79L365.7 152.79M45.6 144.19L51.1 144.19M371.2 144.19L365.7 144.19M45.6 138.09L51.1 138.09M371.2 138.09L365.7 138.09M45.6 133.36L51.1 133.36M371.2 133.36L365.7 133.36M45.6 129.49L51.1 129.49M371.2 129.49L365.7 129.49M45.6 126.22L51.1 126.22M371.2 126.22L365.7 126.22M45.6 123.38L51.1 123.38M371.2 123.38L365.7 123.38M45.6 120.89L51.1 120.89M371.2 120.89L365.7 120.89M45.6 118.65L56.4 118.65M371.2 118.65L360.4 118.65M45.6 103.94L51.1 103.94M371.2 103.94L365.7 103.94M45.6 95.34L51.1 95.34M371.2 95.34L365.7 95.34M45.6 89.24L51.1 89.24M371.2 89.24L365.7 89.24M45.6 84.51L51.1 84.51M371.2 84.51L365.7 84.51M45.6 80.64L51.1 80.64M371.2 80.64L365.7 80.64M45.6 77.37L51.1 77.37M371.2 77.37L365.7 77.37M45.6 74.53L51.1 74.53M371.2 74.53L365.7 74.53M45.6 72.04L51.1 72.04M371.2 72.04L365.7 72.04M45.6 69.8L56.4 69.8M371.2 69.8L360.4 69.8M45.6 55.09L51.1 55.09M371.2 55.09L365.7 55.09M45.6 46.49L51.1 46.49M371.2 46.49L365.7 46.49M45.6 40.39L51.1 40.39M371.2 40.39L365.7 40.39M45.6 35.66L51.1 35.66M371.2 35.66L365.7 35.66M45.6 31.79L51.1 31.79M371.2 31.79L365.7 31.79M45.6 28.52L51.1 28.52M371.2 28.52L365.7 28.52M45.6 25.68L51.1 25.68M371.2 25.68L365.7 25.68M45.6 23.19L51.1 23.19M371.2 23.19L365.7 23.19M45.6 20.95L56.4 20.95M371.2 20.95L360.4 20.95M45.6 477.59L50.8 477.59M371.2 477.59L366 477.59M45.6 458.11L52.6 458.11M371.2 458.11L364.2 458.11M45.6 442.19L50.8 442.19M371.2 442.19L366 442.19M45.6 428.74L50.8 428.74M371.2 428.74L366 428.74M45.6 417.08L50.8 417.08M371.2 417.08L366 417.08M45.6 406.8L50.8 406.8M371.2 406.8L366 406.8M45.6 397.6L52.6 397.6M371.2 397.6L364.2 397.6M45.6 389.28L50.8 389.28M371.2 389.28L366 389.28M45.6 381.68L50.8 381.68M371.2 381.68L366 381.68M45.6 374.7L50.8 374.7M371.2 374.7L366 374.7M45.6 368.23L50.8 368.23M371.2 368.23L366 368.23M45.6 362.21L50.8 362.21M371.2 362.21L366 362.21M45.6 356.57L50.8 356.57M371.2 356.57L366 356.57M45.6 351.28L50.8 351.28M371.2 351.28L366 351.28M45.6 346.29L50.8 346.29M371.2 346.29L366 346.29M45.6 341.57L50.8 341.57M371.2 341.57L366 341.57M45.6 337.09L52.6 337.09M371.2 337.09L364.2 337.09M45.6 332.83L50.8 332.83M371.2 332.83L366 332.83M45.6 328.77L50.8 328.77M371.2 328.77L366 328.77M45.6 324.89L50.8 324.89M371.2 324.89L366 324.89M45.6 321.18L50.8 321.18M371.2 321.18L366 321.18M45.6 317.61L50.8 317.61M371.2 317.61L366 317.61" stroke="#000" stroke-width="1" fill="none"/>
<rect x="45.6" y="17.7" width="325.6" height="300" fill="none" stroke="#000" stroke-width="1.2"/>
<rect x="45.6" y="317.7" width="325.6" height="160.2" fill="none" stroke="#000" stroke-width="1.2"/>
<g fill="#2a2a2a"><text x="51" y="14.3" font-size="12.2">2360 GeV pp</text><text x="367.2" y="14.3" font-size="12.2" text-anchor="end">Soft QCD</text><text x="81.0" y="42.8" font-size="12.1">Charged multiplicity,</text><text x="193.0" y="42.8" font-size="12.1">&#951;</text><text x="192.6" y="42.8" font-size="12.1">|</text><text x="200.2" y="42.8" font-size="12.1">|&lt;1.3</text><text x="230.4" y="42.8" font-size="12.1">,</text><text x="237.5" y="42.8" font-size="12.1">s=2.36</text><path d="M232.7 39.6L233.9 39.1L234.7 43.6L236.5 33.3H243.8" fill="none" stroke="#000" stroke-width="0.9"/><text x="278.9" y="42.8" font-size="12.3">TeV (INEL)</text><text transform="translate(15.2,59.1) rotate(-90)" font-size="12">dN/dN<tspan font-size="8.2" dy="3.9" textLength="6.8" lengthAdjust="spacingAndGlyphs">ch</tspan></text><text x="40" y="25.05" font-size="11.5" text-anchor="end">10</text><text x="40.8" y="73.9" font-size="11.5" text-anchor="end">1</text><text x="34.3" y="123.95" font-size="11.3" text-anchor="end">10</text><text x="33.2" y="119.15" font-size="7.4">&#8722;1</text><text x="32.1" y="172.8" font-size="11.3" text-anchor="end">10</text><text x="31" y="168" font-size="7.4">&#8722;2</text><text x="32.1" y="221.65" font-size="11.3" text-anchor="end">10</text><text x="31" y="216.85" font-size="7.4">&#8722;3</text><text x="32.1" y="270.5" font-size="11.3" text-anchor="end">10</text><text x="31" y="265.7" font-size="7.4">&#8722;4</text><text x="32.1" y="319.35" font-size="11.3" text-anchor="end">10</text><text x="31" y="314.55" font-size="7.4">&#8722;5</text><text x="37.8" y="341.19" font-size="11.5" text-anchor="end">2</text><text x="373.6" y="341.19" font-size="11.5">2</text><text x="38.7" y="401.7" font-size="11.5" text-anchor="end">1</text><text x="373.6" y="401.7" font-size="11.5">1</text><text x="37.8" y="462.21" font-size="11.5" text-anchor="end">0.5</text><text x="373.6" y="462.21" font-size="11.5">0.5</text><text transform="translate(17.8,396.6) rotate(-90)" font-size="9.35" text-anchor="middle">Ratio to ALICE</text><text x="54.2" y="489" font-size="11.2" text-anchor="middle">0</text><text x="153.64" y="489" font-size="11.2" text-anchor="middle">20</text><text x="253.08" y="489" font-size="11.2" text-anchor="middle">40</text><text x="352.52" y="489" font-size="11.2" text-anchor="middle">60</text><text x="354.8" y="502.8" font-size="12">N<tspan font-size="7.8" dy="4.4" dx="-0.3" textLength="8" lengthAdjust="spacingAndGlyphs">ch</tspan></text><text x="94.0" y="236.8" font-size="9.4">ALICE</text><text x="94.0" y="249.9" font-size="9.4">Herwig++ 2.7.1 default</text><text x="94.0" y="263.0" font-size="9.4">Herwig 7.2.1 default</text><text x="94.0" y="276.1" font-size="9.4">Pythia 8.315 default</text><text x="208" y="301.8" font-size="7.8" fill="#8a8a8a" text-anchor="middle">(ALICE_2010_I852450)</text><text transform="translate(379.8,127.3) rotate(-90)" font-size="10" fill="#777" textLength="110" lengthAdjust="spacingAndGlyphs">Rivet 4.1.0, &#8805; 2.6M events</text><text transform="translate(381.6,313) rotate(-90)" font-size="10" fill="#777" textLength="146.5" lengthAdjust="spacingAndGlyphs">mcplots.cern.ch [arXiv:2401.10621]</text></g>
<g fill="#000"><rect x="73.65" y="230.95" width="5.7" height="5.7"/></g>
<line x1="63.9" y1="246.9" x2="88" y2="246.9" stroke="#ad5b16" stroke-width="1.1" stroke-dasharray="3,2"/>
<g fill="none" stroke="#ad5b16" stroke-width="1.1"><circle cx="76.5" cy="246.9" r="2.75"/></g>
<line x1="63.9" y1="260" x2="88" y2="260" stroke="#3d9a2b" stroke-width="1.1" stroke-dasharray="3,2"/>
<g fill="none" stroke="#3d9a2b" stroke-width="1.1"><rect x="73.8" y="257.3" width="5.4" height="5.4"/></g>
<line x1="63.9" y1="272.8" x2="88" y2="272.8" stroke="#0000f0" stroke-width="1"/>
<g fill="#0000f0"><path d="M76.7 269.8L79.45 275.6L73.95 275.6Z"/></g>
</svg></body></html>
